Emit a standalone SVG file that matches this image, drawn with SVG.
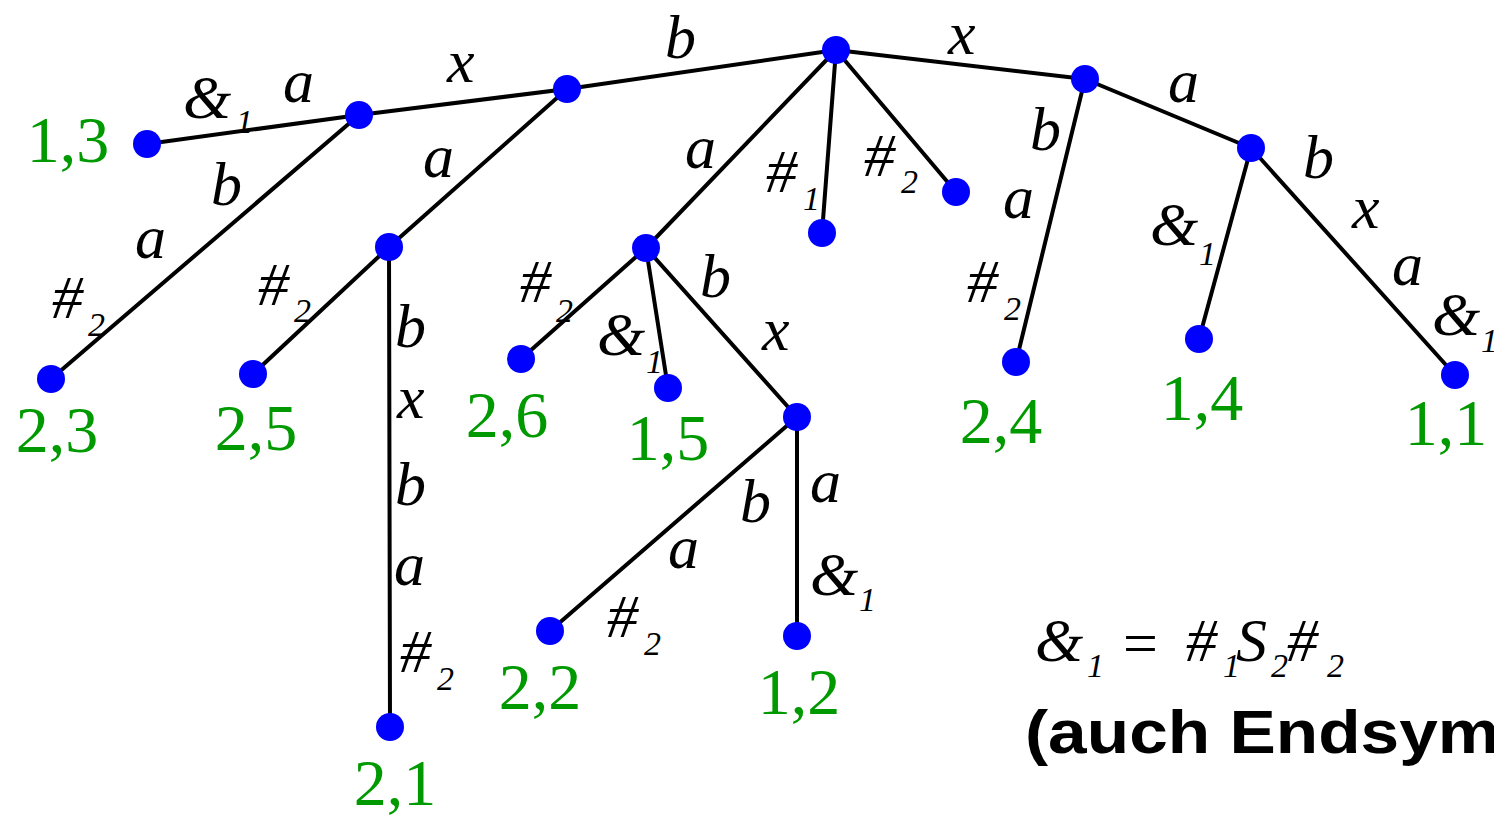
<svg xmlns="http://www.w3.org/2000/svg" width="1494" height="817" viewBox="0 0 1494 817">
<style>
.e{stroke:#000;stroke-width:4;fill:none;stroke-linecap:round}
.n{fill:#0000ff}
.g{font-family:"Liberation Serif",serif;font-size:66px;fill:#009a00;text-anchor:middle}
.l{font-family:"Liberation Serif",serif;font-style:italic;font-size:62px;fill:#000}
.s{font-size:34px}
.b{font-family:"Liberation Sans",Arial,sans-serif;font-weight:bold;font-size:62px;fill:#000}
</style>
<rect width="1494" height="817" fill="#fff"/>
<g id="connectors">
<line class="e" x1="836" y1="50" x2="567" y2="89"/>
<line class="e" x1="567" y1="89" x2="359" y2="115"/>
<line class="e" x1="359" y1="115" x2="147" y2="144"/>
<line class="e" x1="359" y1="115" x2="51" y2="379"/>
<line class="e" x1="567" y1="89" x2="389" y2="247"/>
<line class="e" x1="389" y1="247" x2="253" y2="374"/>
<line class="e" x1="389" y1="247" x2="390" y2="727"/>
<line class="e" x1="836" y1="50" x2="646" y2="248"/>
<line class="e" x1="646" y1="248" x2="521" y2="359"/>
<line class="e" x1="646" y1="248" x2="668" y2="388"/>
<line class="e" x1="646" y1="248" x2="797" y2="417"/>
<line class="e" x1="797" y1="417" x2="550" y2="631"/>
<line class="e" x1="797" y1="417" x2="797" y2="636"/>
<line class="e" x1="836" y1="50" x2="822" y2="233"/>
<line class="e" x1="836" y1="50" x2="956" y2="192"/>
<line class="e" x1="836" y1="50" x2="1085" y2="79"/>
<line class="e" x1="1085" y1="79" x2="1016" y2="362"/>
<line class="e" x1="1085" y1="79" x2="1251" y2="148"/>
<line class="e" x1="1251" y1="148" x2="1199" y2="339"/>
<line class="e" x1="1251" y1="148" x2="1455" y2="375"/>
</g>
<g id="edge-labels">
<text class="l" x="183" y="118">&amp;</text><text class="l s" x="236" y="133">1</text>
<text class="l" x="283" y="102">a</text>
<text class="l" x="447" y="82">x</text>
<text class="l" x="665" y="58">b</text>
<text class="l" x="948" y="54">x</text>
<text class="l" x="1168" y="102">a</text>
<text class="l" x="211" y="205">b</text>
<text class="l" x="135" y="258">a</text>
<text class="l" x="52" y="318">#</text><text class="l s" x="88" y="336">2</text>
<text class="l" x="423" y="177">a</text>
<text class="l" x="258" y="305">#</text><text class="l s" x="294" y="322">2</text>
<text class="l" x="395" y="347">b</text>
<text class="l" x="397" y="418">x</text>
<text class="l" x="395" y="505">b</text>
<text class="l" x="394" y="585">a</text>
<text class="l" x="400" y="672">#</text><text class="l s" x="437" y="690">2</text>
<text class="l" x="685" y="168">a</text>
<text class="l" x="766" y="192">#</text><text class="l s" x="803" y="210">1</text>
<text class="l" x="864" y="176">#</text><text class="l s" x="901" y="193">2</text>
<text class="l" x="520" y="302">#</text><text class="l s" x="556" y="322">2</text>
<text class="l" x="597" y="355">&amp;</text><text class="l s" x="646" y="373">1</text>
<text class="l" x="700" y="297">b</text>
<text class="l" x="762" y="350">x</text>
<text class="l" x="740" y="522">b</text>
<text class="l" x="668" y="568">a</text>
<text class="l" x="607" y="637">#</text><text class="l s" x="644" y="655">2</text>
<text class="l" x="810" y="502">a</text>
<text class="l" x="810" y="595">&amp;</text><text class="l s" x="859" y="611">1</text>
<text class="l" x="1030" y="150">b</text>
<text class="l" x="1003" y="218">a</text>
<text class="l" x="967" y="302">#</text><text class="l s" x="1004" y="320">2</text>
<text class="l" x="1303" y="178">b</text>
<text class="l" x="1150" y="245">&amp;</text><text class="l s" x="1199" y="265">1</text>
<text class="l" x="1352" y="228">x</text>
<text class="l" x="1392" y="285">a</text>
<text class="l" x="1432" y="335">&amp;</text><text class="l s" x="1481" y="352">1</text>
</g>
<g id="n-root"><circle class="n" cx="836" cy="50" r="14"/></g>
<g id="n-1"><circle class="n" cx="567" cy="89" r="14"/></g>
<g id="n-2"><circle class="n" cx="359" cy="115" r="14"/></g>
<g id="n-13"><circle class="n" cx="147" cy="144" r="14"/><text class="g" x="68" y="162">1,3</text></g>
<g id="n-23"><circle class="n" cx="51" cy="379" r="14"/><text class="g" x="57" y="452">2,3</text></g>
<g id="n-3"><circle class="n" cx="389" cy="247" r="14"/></g>
<g id="n-25"><circle class="n" cx="253" cy="374" r="14"/><text class="g" x="256" y="450">2,5</text></g>
<g id="n-21"><circle class="n" cx="390" cy="727" r="14"/><text class="g" x="395" y="805">2,1</text></g>
<g id="n-4"><circle class="n" cx="646" cy="248" r="14"/></g>
<g id="n-26"><circle class="n" cx="521" cy="359" r="14"/><text class="g" x="507" y="437">2,6</text></g>
<g id="n-15"><circle class="n" cx="668" cy="388" r="14"/><text class="g" x="668" y="460">1,5</text></g>
<g id="n-5"><circle class="n" cx="797" cy="417" r="14"/></g>
<g id="n-22"><circle class="n" cx="550" cy="631" r="14"/><text class="g" x="540" y="709">2,2</text></g>
<g id="n-12"><circle class="n" cx="797" cy="636" r="14"/><text class="g" x="799" y="714">1,2</text></g>
<g id="n-h1"><circle class="n" cx="822" cy="233" r="14"/></g>
<g id="n-h2"><circle class="n" cx="956" cy="192" r="14"/></g>
<g id="n-6"><circle class="n" cx="1085" cy="79" r="14"/></g>
<g id="n-24"><circle class="n" cx="1016" cy="362" r="14"/><text class="g" x="1001" y="443">2,4</text></g>
<g id="n-7"><circle class="n" cx="1251" cy="148" r="14"/></g>
<g id="n-14"><circle class="n" cx="1199" cy="339" r="14"/><text class="g" x="1202" y="420">1,4</text></g>
<g id="n-11"><circle class="n" cx="1455" cy="375" r="14"/><text class="g" x="1446" y="445">1,1</text></g>
<g id="legend">
<text class="l" x="1035" y="661" font-size="58">&amp;</text><text class="l s" x="1087" y="677" font-size="32">1</text>
<text class="l" x="1119" y="664" font-size="72" font-style="normal">=</text>
<text class="l" x="1186" y="661" font-size="58">#</text><text class="l s" x="1223" y="677" font-size="32">1</text>
<text class="l" x="1236" y="661" font-size="58">S</text><text class="l s" x="1271" y="677" font-size="32">2</text>
<text class="l" x="1287" y="661" font-size="58">#</text><text class="l s" x="1327" y="677" font-size="32">2</text>
<text class="b" x="1025" y="753" transform="translate(1025 0) scale(1.12 1) translate(-1025 0)">(auch Endsymbole)</text>
</g>
</svg>
